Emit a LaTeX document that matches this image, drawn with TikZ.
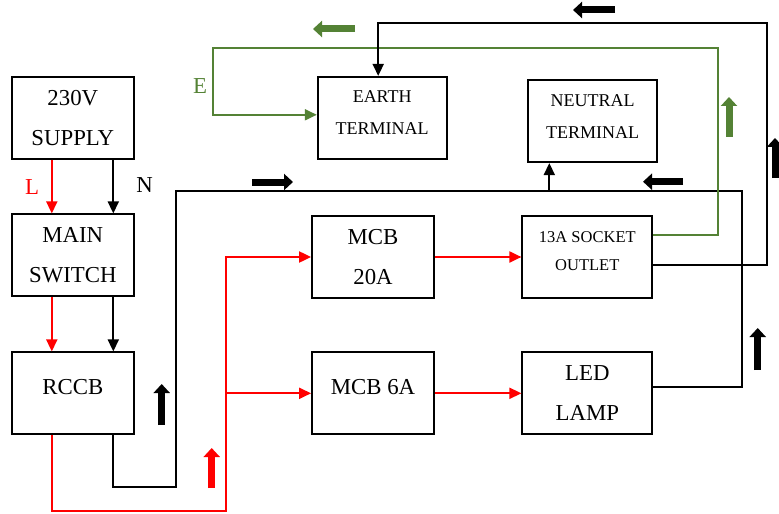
\documentclass[tikz,border=0pt]{standalone}
\usepackage{fontspec}
\setmainfont{Liberation Serif}
\usetikzlibrary{arrows.meta,positioning,calc}
\definecolor{earthgreen}{RGB}{84,130,53}
\tikzset{
  wire/.style={line width=1pt},
  wirearr/.style={-{Triangle[length=6pt,width=5.5pt]}, line width=1pt},
  blockbox/.style={draw, line width=0.9pt, align=center, minimum width=61pt, minimum height=41pt, inner sep=2pt},
  fatarr/.style={-{Triangle[length=4.5pt,width=8pt]}, line width=3.5pt},
}
\begin{document}
\begin{tikzpicture}[
  x=0.5pt, y=-0.5pt,
  big/.style={font=\fontsize{11.4}{20}\selectfont},
  mid/.style={font=\fontsize{9}{16}\selectfont, minimum width=64.5pt, text depth=5pt},
  small/.style={font=\fontsize{8.25}{13.75}\selectfont, minimum width=65pt, text depth=6pt},
]
  \useasboundingbox (0,0) rectangle (779,513);
  % supply side
  \node[blockbox, big] (sup) at (72.8,117.8) {230V\\SUPPLY};
  \node[blockbox, big] (msw) at (72.8,255.3) {MAIN\\SWITCH};
  \node[blockbox, big, text depth=6pt] (rccb) at (72.8,393.3) {RCCB};
  \node[big, text=red] (lbl) at (32,187.5) {L};
  \node[big] (nlbl) at (144.5,185) {N};
  \node[big, text=earthgreen] (elbl) at (200,86) {E};
  % breakers and loads
  \node[blockbox, big] (mcb20) at (373,257) {MCB\\20A};
  \node[blockbox, big, text depth=6pt] (mcb6) at (373,393.3) {MCB 6A};
  \node[blockbox, small] (socket) at (587.3,257) {13A SOCKET\\OUTLET};
  \node[blockbox, big, minimum width=65pt] (led) at (587.3,393.3) {LED\\LAMP};
  % terminals
  \node[blockbox, mid] (earth) at (382.2,117.8) {EARTH\\TERMINAL};
  \node[blockbox, mid] (neutral) at (592.5,121.2) {NEUTRAL\\TERMINAL};

  \coordinate (rlow) at (226,511);
  \coordinate (nlow) at (176,486.7);
  \coordinate (ntap) at (549.3,190.7);
  \coordinate (nbus) at (742.3,190.7);
  \coordinate (gtr) at (718,48.3);
  \coordinate (gtl) at (213.3,48.3);
  \coordinate (btr) at (767.3,23.3);

  \foreach \a/\b in {sup/msw,msw/rccb} {
    \draw[wirearr, red] ([xshift=-10.5pt]\a.south) -- ([xshift=-10.5pt]\b.north);
    \draw[wirearr] ([xshift=20.25pt]\a.south) -- ([xshift=20.25pt]\b.north);
  }
  % line feed
  \draw[wirearr, red] ([xshift=-10.5pt]rccb.south) |- (rlow) |- (mcb20.west);
  \draw[wirearr, red] (rlow |- mcb6.west) -- (mcb6.west);
  \foreach \a/\b in {mcb20/socket,mcb6/led}
    \draw[wirearr, red] (\a) -- (\b);
  % neutral return
  \draw[wirearr] ([xshift=20.25pt]rccb.south) |- (nlow) |- (ntap) -- (ntap |- neutral.south);
  \draw[wire] ([yshift=3pt]led.east) -| (nbus) -- (ntap);
  % earth
  \draw[wirearr, earthgreen] ([yshift=11pt]socket.east) -| (gtr) -- (gtl) |- ([yshift=1.5pt]earth.west);
  \draw[wirearr] ([yshift=-4pt]socket.east) -| (btr) -| ([xshift=-2pt]earth.north);

  % flow direction marks
  \foreach \c/\xa/\ya/\xb/\yb in {earthgreen/355/29/313/29, black/615/10/573/10,
      black/252/182/293/182, black/683/181.7/643/181.7, earthgreen/729/137/729/97,
      black/775/178/775/138, black/161.7/425/161.7/384, red/211.7/488/211.7/448,
      black/757.7/370/757.7/328}
    \draw[fatarr, \c] (\xa,\ya) -- (\xb,\yb);
\end{tikzpicture}
\end{document}
